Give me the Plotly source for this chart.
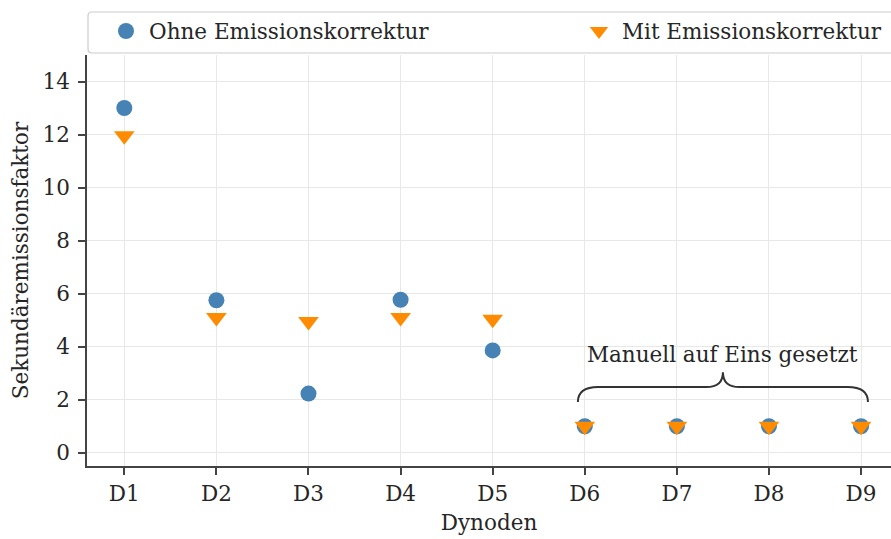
import plotly.graph_objects as go

# Dynode data: secondary emission factor with and without emission correction
dynodes = ["D1", "D2", "D3", "D4", "D5", "D6", "D7", "D8", "D9"]
ohne_korrektur = [13.0, 5.75, 2.23, 5.77, 3.86, 1.0, 1.0, 1.0, 1.0]
mit_korrektur = [11.95, 5.1, 4.95, 5.1, 5.03, 1.0, 1.0, 1.0, 1.0]
manuell_idx = [5, 6, 7, 8]  # dynodes whose factor was set to one by hand

FONT = "DejaVu Serif"
FS = 21.5
INK = "#262626"
AXIS = "#444444"
GRID = "#e8e8e8"
BLUE = "#4682B4"
ORANGE = "#FF8C00"

W, H = 891 - 87, 466 - 55   # plot area size in px

xpos = list(range(len(dynodes)))

fig = go.Figure()
fig.add_trace(go.Scatter(
    x=xpos, y=ohne_korrektur, mode="markers", name="Ohne Emissionskorrektur",
    marker=dict(symbol="circle", size=16, color=BLUE, line=dict(width=0)),
    legend="legend",
))
fig.add_trace(go.Scatter(
    x=xpos, y=mit_korrektur, mode="markers", name="Mit Emissionskorrektur",
    marker=dict(symbol="triangle-down", size=18, color=ORANGE, line=dict(width=0)),
    legend="legend2",
))

# Curly brace over the manually fixed dynodes
x0 = min(manuell_idx) - 0.075
x1 = max(manuell_idx) + 0.075
xm = (x0 + x1) / 2
yb, yh, yt = 1.91, 2.48, 3.04
dxe, dxm = 0.22, 0.18
brace = (
    f"M {x0},{yb} Q {x0},{yh} {x0 + dxe},{yh} "
    f"L {xm - dxm},{yh} Q {xm},{yh} {xm},{yt} "
    f"Q {xm},{yh} {xm + dxm},{yh} "
    f"L {x1 - dxe},{yh} Q {x1},{yh} {x1},{yb}"
)
fig.add_shape(type="path", path=brace, xref="x", yref="y",
              line=dict(color="#333333", width=2))
fig.add_annotation(x=xm, y=3.72, xref="x", yref="y", text="Manuell auf Eins gesetzt",
                   showarrow=False, font=dict(family=FONT, size=FS, color=INK),
                   xanchor="center", yanchor="middle")

# Legend frame above the plot area (paper coordinates)
lx0 = 1 / W
ly_top = (466 - 12) / H
ly_bot = (466 - 53) / H
rx, ry = 4 / W, 4 / H
frame = (
    f"M 1.05,{ly_top} L {lx0 + rx},{ly_top} Q {lx0},{ly_top} {lx0},{ly_top - ry} "
    f"L {lx0},{ly_bot + ry} Q {lx0},{ly_bot} {lx0 + rx},{ly_bot} L 1.05,{ly_bot}"
)
fig.add_shape(type="path", path=frame, xref="paper", yref="paper",
              line=dict(color="#cccccc", width=1.2), fillcolor="rgba(255,255,255,0.9)",
              layer="above")

legend_common = dict(
    orientation="h", yanchor="middle", y=(466 - 31) / H, xanchor="left",
    bgcolor="rgba(0,0,0,0)", borderwidth=0, itemwidth=36,
    font=dict(family=FONT, size=FS, color=INK),
)

fig.update_layout(
    width=891, height=539,
    margin=dict(l=87, r=0, t=55, b=73, autoexpand=False),
    paper_bgcolor="white", plot_bgcolor="white",
    font=dict(family=FONT, size=FS, color=INK),
    showlegend=True,
    legend=dict(x=(103 - 87) / W, **legend_common),
    legend2=dict(x=(576 - 87) / W, **legend_common),
    xaxis=dict(
        range=[-0.405, 8.325], tickmode="array", tickvals=xpos, ticktext=dynodes,
        showgrid=True, gridcolor=GRID, gridwidth=1.2, zeroline=False,
        showline=True, linecolor=AXIS, linewidth=1.6,
        ticks="outside", ticklen=7, tickwidth=1.5, tickcolor=AXIS,
        title=dict(text="Dynoden", font=dict(family=FONT, size=FS, color=INK), standoff=10),
    ),
    yaxis=dict(
        range=[-0.5, 15], tickmode="array", tickvals=[0, 2, 4, 6, 8, 10, 12, 14],
        showgrid=True, gridcolor=GRID, gridwidth=1.2, zeroline=False,
        showline=True, linecolor=AXIS, linewidth=1.6,
        ticks="outside", ticklen=7, tickwidth=1.5, tickcolor=AXIS,
        ticklabelstandoff=4,
        title=dict(text="Sekundäremissionsfaktor", font=dict(family=FONT, size=FS, color=INK), standoff=8),
    ),
)

fig.write_html("out.html")
